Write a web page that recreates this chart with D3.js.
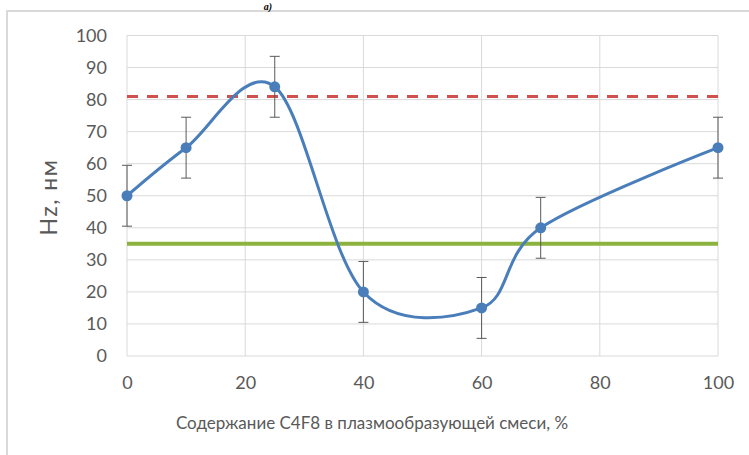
<!DOCTYPE html>
<html lang="ru">
<head>
    <meta charset="UTF-8">
    <title>Hz vs C4F8</title>
    <script src="https://d3js.org/d3.v7.min.js"></script>
    <style>
        body { margin: 0; background: #fff; }
        svg { display: block; }
        .tick text { font-family: Lato, "Open Sans", sans-serif; font-size: 18px; fill: #595959; }
        .axis-title { font-family: Lato, "Open Sans", sans-serif; fill: #595959; }
    </style>
</head>
<body>
<svg width="749" height="455"></svg>
<script>
    // data
    const content = [0, 10, 25, 40, 60, 70, 100];
    const hz = [50, 65, 84, 20, 15, 40, 65];
    const errBar = 9.5;
    const upperLimit = 81;
    const lowerLimit = 35;
    const xTicks = [0, 20, 40, 60, 80, 100];
    const yTicks = [0, 10, 20, 30, 40, 50, 60, 70, 80, 90, 100];

    const points = content.map((c, i) => ({ x: c, y: hz[i] }));

    const svg = d3.select("svg");
    const plotLeft = 127, plotRight = 718, plotTop = 35.5, plotBottom = 356;

    // figure frame
    svg.append("rect")
        .attr("x", 7).attr("y", 11).attr("width", 760).attr("height", 460)
        .attr("fill", "none").attr("stroke", "#d9d9d9").attr("stroke-width", 2);

    // figure caption above the frame
    svg.append("text")
        .attr("x", 268).attr("y", 9.5)
        .attr("text-anchor", "middle")
        .attr("font-family", "Liberation Serif, serif")
        .attr("font-style", "italic")
        .attr("font-weight", "bold")
        .attr("font-size", 10)
        .text("а)");

    const x = d3.scaleLinear().domain([0, 100]).range([plotLeft, plotRight]);
    const y = d3.scaleLinear().domain([0, 100]).range([plotBottom, plotTop]);

    // gridlines
    svg.append("g").selectAll("line").data(yTicks).enter().append("line")
        .attr("x1", plotLeft).attr("x2", plotRight)
        .attr("y1", d => y(d)).attr("y2", d => y(d))
        .attr("stroke", "#d9d9d9").attr("stroke-width", 1);
    svg.append("g").selectAll("line").data(xTicks).enter().append("line")
        .attr("x1", d => x(d)).attr("x2", d => x(d))
        .attr("y1", plotTop).attr("y2", plotBottom)
        .attr("stroke", "#d9d9d9").attr("stroke-width", 1);

    // axes (labels only)
    const xAxis = svg.append("g")
        .attr("transform", `translate(0,${plotBottom})`)
        .call(d3.axisBottom(x).tickValues(xTicks).tickSize(0).tickPadding(20));
    xAxis.select(".domain").remove();

    const yAxis = svg.append("g")
        .attr("transform", `translate(${plotLeft},0)`)
        .call(d3.axisLeft(y).tickValues(yTicks).tickSize(0).tickPadding(20));
    yAxis.select(".domain").remove();

    // axis titles
    svg.append("text").attr("class", "axis-title")
        .attr("x", 372).attr("y", 429)
        .attr("text-anchor", "middle")
        .attr("font-size", 17)
        .text("Содержание C4F8 в плазмообразующей смеси, %");

    svg.append("text").attr("class", "axis-title")
        .attr("transform", "translate(57,197) rotate(-90)")
        .attr("text-anchor", "middle")
        .attr("font-size", 23)
        .attr("letter-spacing", 1.5)
        .text("Hz, нм");

    // reference lines
    svg.append("line")
        .attr("x1", x(0)).attr("x2", x(100))
        .attr("y1", y(lowerLimit)).attr("y2", y(lowerLimit))
        .attr("stroke", "#8db33f").attr("stroke-width", 4);
    svg.append("line")
        .attr("x1", x(0)).attr("x2", x(100))
        .attr("y1", y(upperLimit)).attr("y2", y(upperLimit))
        .attr("stroke", "#d0504d").attr("stroke-width", 3)
        .attr("stroke-dasharray", "11,9");

    // error bars
    const eb = svg.append("g").attr("stroke", "#595959").attr("stroke-width", 1);
    points.forEach(p => {
        eb.append("line").attr("x1", x(p.x)).attr("x2", x(p.x))
            .attr("y1", y(p.y - errBar)).attr("y2", y(p.y + errBar));
        [p.y - errBar, p.y + errBar].forEach(v => {
            eb.append("line").attr("x1", x(p.x) - 5).attr("x2", x(p.x) + 5)
                .attr("y1", y(v)).attr("y2", y(v));
        });
    });

    // smoothed series
    const line = d3.line()
        .x(d => x(d.x)).y(d => y(d.y))
        .curve(d3.curveCardinal.tension(0));
    svg.append("path").datum(points)
        .attr("d", line)
        .attr("fill", "none")
        .attr("stroke", "#4a7ebb").attr("stroke-width", 3);

    svg.append("g").selectAll("circle").data(points).enter().append("circle")
        .attr("cx", d => x(d.x)).attr("cy", d => y(d.y))
        .attr("r", 5.5).attr("fill", "#4a7ebb");
</script>
</body>
</html>
